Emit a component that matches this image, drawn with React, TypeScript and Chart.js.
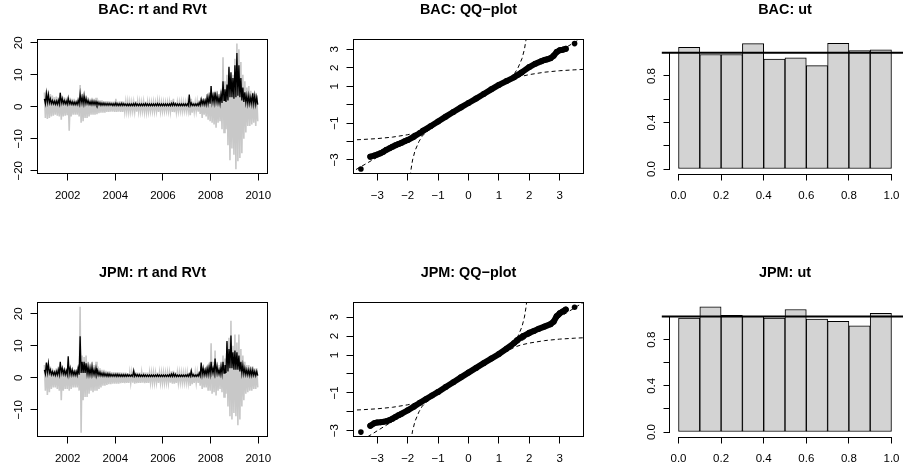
import React, { useEffect, useRef } from 'react';
import { Chart, registerables } from 'chart.js';

Chart.register(...registerables);

// ---------------- style constants ----------------
const FONT = '"Liberation Sans", Arial, Helvetica, sans-serif';
const TICK_SIZE = 11.5;
const TITLE_SIZE = 14.4;
const TICK_LEN = 6.5;
const Y_LABEL_GAP = 18;
const X_LABEL_GAP = 21.5;
const M_LEFT = 45;
const M_RIGHT = 20;
const GREY = '#C8C8C8';
const HIST_FILL = '#D3D3D3';

// ---------------- data ----------------
const START_YEAR = 2001; // monthly summaries, Jan 2001 .. Dec 2009

// BAC daily returns rt: monthly low / high
const BAC_RT_HI = [
  4.5, 5.2, 4.8, 4.0, 3.5, 3.0, 3.2, 3.0, 4.5, 3.5, 3.0, 2.8,
  3.0, 2.8, 2.5, 2.5, 2.2, 3.0, 6.8, 4.0, 3.5, 3.5, 3.0, 2.5,
  2.8, 2.5, 2.8, 2.2, 2.0, 2.0, 1.8, 1.8, 1.8, 1.7, 1.6, 1.6,
  2.5, 1.6, 1.7, 1.8, 1.6, 1.5, 1.5, 1.4, 1.3, 1.4, 1.8, 1.5,
  1.4, 1.3, 1.5, 1.6, 1.4, 1.3, 1.3, 1.4, 1.2, 1.6, 1.5, 1.3,
  1.3, 1.2, 1.3, 1.4, 2.0, 2.5, 1.5, 1.3, 1.3, 1.4, 1.3, 1.2,
  1.4, 1.3, 2.5, 1.6, 1.3, 1.5, 2.0, 2.8, 2.5, 2.5, 4.0, 4.5,
  6.5, 4.5, 5.0, 5.0, 4.0, 5.0, 15.5, 8.0, 10.0, 12.0, 9.0, 10.0,
  15.0, 19.8, 18.0, 14.0, 10.0, 8.0, 6.0, 6.5, 5.0, 4.5, 4.0, 3.5,
];
const BAC_RT_LO = [
  -3.5, -3.8, -3.5, -3.0, -2.8, -2.5, -2.8, -3.0, -4.0, -3.0, -2.8, -2.6,
  -7.5, -3.0, -2.5, -2.5, -2.5, -3.0, -5.0, -4.5, -3.5, -3.5, -3.0, -2.5,
  -2.5, -2.5, -2.3, -2.0, -1.8, -1.8, -1.8, -1.6, -1.6, -1.5, -1.5, -1.6,
  -1.6, -1.5, -1.6, -1.6, -1.5, -1.4, -1.5, -1.4, -1.3, -1.4, -1.5, -1.4,
  -1.4, -1.3, -1.5, -1.5, -1.4, -1.3, -1.3, -1.4, -1.3, -1.6, -1.4, -1.3,
  -1.3, -1.2, -1.3, -1.4, -1.6, -1.7, -1.5, -1.3, -1.2, -1.3, -1.2, -1.2,
  -1.3, -2.6, -1.8, -1.4, -1.3, -1.5, -2.2, -3.5, -2.5, -3.0, -4.0, -4.5,
  -5.0, -5.5, -6.5, -5.0, -4.5, -7.0, -8.0, -7.0, -12.0, -16.7, -13.0, -15.0,
  -19.5, -17.0, -16.0, -14.5, -10.0, -8.0, -6.0, -6.0, -5.5, -5.0, -6.0, -4.5,
];
// BAC realized volatility RVt: monthly low / high
const BAC_RV_HI = [
  2.5, 4.2, 3.8, 2.5, 2.0, 1.8, 1.8, 2.0, 4.4, 2.5, 2.0, 1.8,
  2.7, 1.8, 1.6, 1.5, 1.5, 2.0, 4.0, 3.0, 3.5, 2.5, 2.0, 1.6,
  1.8, 1.7, 1.6, 1.4, 1.3, 1.2, 1.2, 1.1, 1.1, 1.1, 1.0, 1.0,
  1.2, 1.0, 1.0, 1.1, 1.0, 0.9, 0.9, 0.9, 0.9, 1.0, 1.1, 0.9,
  0.9, 0.9, 0.9, 1.0, 0.9, 0.9, 0.9, 0.9, 0.9, 1.0, 0.9, 0.9,
  0.9, 0.9, 0.9, 0.9, 1.1, 1.2, 1.0, 0.9, 0.9, 0.9, 0.9, 0.9,
  0.9, 3.8, 1.2, 0.9, 0.9, 1.0, 1.3, 2.3, 2.0, 2.0, 3.0, 3.2,
  6.5, 3.5, 4.5, 3.5, 3.0, 4.0, 8.0, 5.5, 7.0, 12.5, 10.8, 9.0,
  13.0, 16.8, 13.0, 9.0, 6.0, 4.5, 3.5, 3.5, 3.0, 4.2, 3.5, 3.0,
];
const BAC_RV_LO = [
  1.0, 1.5, 1.3, 1.0, 0.9, 0.8, 0.8, 0.8, 1.2, 1.0, 0.9, 0.8,
  0.9, 0.8, 0.7, 0.7, 0.7, 0.8, 1.2, 1.0, 1.0, 1.0, 0.8, 0.7,
  0.7, 0.7, 0.6, 0.6, 0.5, 0.5, 0.5, 0.5, 0.5, 0.5, 0.4, 0.4,
  0.4, 0.4, 0.4, 0.4, 0.4, 0.35, 0.35, 0.35, 0.35, 0.35, 0.4, 0.35,
  0.35, 0.35, 0.35, 0.35, 0.35, 0.35, 0.35, 0.35, 0.35, 0.35, 0.35, 0.35,
  0.35, 0.35, 0.35, 0.35, 0.4, 0.4, 0.35, 0.35, 0.35, 0.35, 0.35, 0.35,
  0.35, 0.4, 0.4, 0.35, 0.35, 0.4, 0.5, 0.8, 0.7, 0.7, 1.0, 1.0,
  1.5, 1.3, 1.5, 1.2, 1.0, 1.2, 2.0, 1.5, 2.0, 3.0, 3.0, 2.5,
  3.0, 3.5, 3.0, 2.0, 1.5, 1.3, 1.0, 1.0, 0.9, 0.9, 0.8, 0.7,
];

// JPM daily returns rt: monthly low / high
const JPM_RT_HI = [
  4.0, 4.5, 4.5, 3.5, 3.0, 2.5, 3.0, 3.5, 4.5, 3.5, 3.0, 3.0,
  4.0, 3.5, 3.0, 2.5, 2.5, 3.5, 22.2, 7.0, 6.5, 7.0, 5.0, 4.5,
  5.0, 4.0, 5.0, 3.5, 3.0, 2.5, 2.5, 2.2, 2.0, 2.0, 1.8, 1.8,
  1.8, 1.8, 1.7, 1.6, 1.6, 1.6, 1.5, 1.5, 1.5, 2.2, 1.8, 1.6,
  1.6, 1.5, 1.7, 1.6, 1.6, 1.5, 1.5, 1.5, 1.4, 1.6, 1.5, 1.5,
  1.5, 1.4, 1.5, 1.5, 2.0, 2.2, 1.8, 1.5, 1.5, 1.5, 1.4, 1.4,
  1.5, 1.6, 2.5, 1.6, 1.5, 1.5, 2.0, 3.5, 3.0, 3.0, 3.5, 4.0,
  10.8, 5.0, 8.5, 5.0, 4.0, 5.0, 7.0, 6.0, 11.0, 12.5, 17.8, 10.0,
  13.5, 11.0, 13.5, 9.0, 7.0, 5.0, 4.0, 4.0, 3.5, 3.5, 3.0, 3.0,
];
const JPM_RT_LO = [
  -4.0, -5.4, -4.5, -3.5, -3.0, -3.0, -3.5, -4.0, -7.0, -4.0, -3.5, -3.5,
  -4.0, -3.5, -3.0, -3.0, -3.0, -4.0, -17.2, -7.0, -6.0, -6.0, -5.0, -4.0,
  -4.5, -4.0, -4.0, -3.5, -3.0, -2.5, -2.5, -2.2, -2.0, -2.0, -1.8, -1.8,
  -1.8, -1.8, -1.7, -1.6, -1.7, -1.6, -1.6, -1.5, -1.5, -1.8, -1.7, -1.6,
  -1.6, -1.5, -1.7, -1.6, -1.6, -1.5, -1.5, -1.5, -1.4, -1.6, -1.5, -1.5,
  -1.5, -1.4, -1.5, -1.5, -1.8, -1.8, -1.6, -1.5, -1.4, -1.4, -1.4, -1.4,
  -1.5, -2.5, -2.0, -1.6, -1.5, -1.6, -2.5, -3.5, -3.0, -3.0, -4.0, -4.0,
  -5.0, -4.5, -5.5, -4.0, -3.5, -4.5, -6.0, -5.0, -9.0, -12.0, -13.0, -11.0,
  -12.0, -14.8, -13.0, -9.0, -7.0, -5.0, -4.5, -4.0, -4.0, -3.5, -3.5, -3.0,
];
// JPM realized volatility RVt: monthly low / high
const JPM_RV_HI = [
  2.5, 4.8, 4.5, 2.5, 2.0, 1.8, 2.0, 2.5, 5.0, 3.0, 2.5, 2.2,
  6.7, 3.0, 2.5, 2.0, 2.0, 3.0, 13.0, 5.0, 5.0, 4.5, 3.5, 3.0,
  3.5, 2.5, 3.0, 2.0, 1.8, 1.5, 1.5, 1.3, 1.3, 1.2, 1.1, 1.1,
  1.1, 1.1, 1.0, 1.0, 1.0, 1.0, 1.0, 0.9, 0.9, 2.2, 1.1, 1.0,
  1.0, 0.9, 1.0, 0.9, 0.9, 0.9, 0.9, 0.9, 0.9, 1.0, 0.9, 0.9,
  0.9, 0.9, 0.9, 1.0, 1.2, 1.3, 1.1, 0.9, 0.9, 0.9, 0.9, 0.9,
  1.0, 1.2, 2.2, 1.0, 0.9, 1.0, 1.5, 4.8, 3.0, 2.5, 3.0, 3.5,
  5.0, 3.0, 6.0, 3.5, 2.5, 3.5, 5.0, 4.0, 11.5, 9.0, 13.2, 8.0,
  8.5, 8.0, 7.0, 5.0, 4.0, 3.0, 2.5, 2.5, 2.5, 2.5, 2.0, 2.0,
];
const JPM_RV_LO = [
  1.2, 1.8, 1.5, 1.0, 0.9, 0.8, 0.9, 1.0, 1.5, 1.2, 1.0, 1.0,
  1.2, 1.0, 0.9, 0.8, 0.8, 1.0, 1.5, 1.5, 1.5, 1.3, 1.0, 1.0,
  1.0, 0.9, 0.9, 0.8, 0.7, 0.6, 0.6, 0.5, 0.5, 0.5, 0.5, 0.5,
  0.45, 0.45, 0.45, 0.45, 0.45, 0.45, 0.45, 0.45, 0.45, 0.5, 0.45, 0.45,
  0.4, 0.4, 0.4, 0.4, 0.4, 0.4, 0.4, 0.4, 0.4, 0.4, 0.4, 0.4,
  0.4, 0.4, 0.4, 0.4, 0.45, 0.45, 0.4, 0.4, 0.4, 0.4, 0.4, 0.4,
  0.4, 0.5, 0.5, 0.4, 0.4, 0.5, 0.6, 1.0, 0.9, 0.9, 1.0, 1.2,
  1.5, 1.3, 1.5, 1.2, 1.0, 1.2, 1.5, 1.5, 2.0, 3.0, 3.0, 2.5,
  2.5, 2.5, 2.0, 1.5, 1.2, 1.0, 0.9, 0.8, 0.8, 0.8, 0.7, 0.7,
];

// QQ-plots: theoretical quantiles (x) vs sample quantiles (y)
const BAC_QQ_X = [-3.23, -3.1, -3.0, -2.9, -2.8, -2.7, -2.6, -2.5, -2.4, -2.3, -2.2, -2.1, -2.0, -1.8, -1.6, -1.5, -1.25, -1.0, -0.75, -0.5, -0.25, 0, 0.25, 0.5, 0.75, 1.0, 1.25, 1.5, 1.75, 2.0, 2.2, 2.4, 2.5, 2.6, 2.7, 2.8, 2.9, 3.0, 3.1, 3.2];
const BAC_QQ_Y = [-2.82, -2.76, -2.7, -2.64, -2.56, -2.45, -2.37, -2.28, -2.2, -2.13, -2.06, -1.99, -1.92, -1.74, -1.54, -1.42, -1.17, -0.91, -0.65, -0.4, -0.15, 0.09, 0.33, 0.58, 0.83, 1.07, 1.28, 1.48, 1.75, 2.04, 2.22, 2.36, 2.42, 2.46, 2.52, 2.65, 2.85, 2.95, 2.98, 3.03];
const BAC_QQ_TAIL_X = [-3.54, 3.49];
const BAC_QQ_TAIL_Y = [-3.49, 3.31];
const BAC_DIAG_X = [-3.9, 3.9];
const BAC_DIAG_Y = [-3.71, 3.77];

const JPM_QQ_X = [-3.23, -3.1, -3.0, -2.9, -2.8, -2.7, -2.6, -2.5, -2.4, -2.3, -2.2, -2.0, -1.8, -1.6, -1.4, -1.2, -1.0, -0.75, -0.5, -0.25, 0, 0.25, 0.5, 0.75, 1.0, 1.25, 1.5, 1.6, 1.8, 2.0, 2.15, 2.3, 2.5, 2.7, 2.8, 2.9, 3.0, 3.1, 3.2];
const JPM_QQ_Y = [-2.74, -2.6, -2.56, -2.55, -2.53, -2.5, -2.44, -2.36, -2.27, -2.18, -2.1, -1.92, -1.73, -1.52, -1.33, -1.14, -0.95, -0.69, -0.44, -0.18, 0.07, 0.32, 0.57, 0.81, 1.05, 1.33, 1.63, 1.78, 2.0, 2.17, 2.27, 2.38, 2.5, 2.63, 2.76, 3.05, 3.2, 3.3, 3.4];
const JPM_QQ_TAIL_X = [-3.54, 3.49];
const JPM_QQ_TAIL_Y = [-3.07, 3.52];
const JPM_DIAG_X = [-3.9, 3.9];
const JPM_DIAG_Y = [-3.9, 3.9];

// dashed envelope curves (t, h(t)); the steep branch is (h(t), t)
const ENV_T = [-3.9, -3.5, -3.0, -2.5, -2.0, -1.7, -1.5, -1.0, -0.5, 0, 0.5, 1.0, 1.5, 1.7, 2.0, 2.5, 3.0, 3.5, 3.9];
const ENV_H = [-1.92, -1.89, -1.84, -1.76, -1.63, -1.52, -1.4, -0.97, -0.5, 0, 0.5, 0.97, 1.4, 1.52, 1.63, 1.76, 1.84, 1.89, 1.92];

// histograms of ut (density), bins of width 0.1
const HIST_MIDS = [0.05, 0.15, 0.25, 0.35, 0.45, 0.55, 0.65, 0.75, 0.85, 0.95];
const BAC_HIST = [1.047, 0.985, 0.985, 1.078, 0.946, 0.957, 0.889, 1.081, 1.018, 1.024];
const JPM_HIST = [0.987, 1.084, 1.01, 1.001, 0.987, 1.061, 0.978, 0.958, 0.92, 1.027];
const UNIFORM_DENSITY = 1;
const REF_LINE_X = [-0.0785, 1.2];

// ticks
const TS_X_TICKS = [2002, 2004, 2006, 2008, 2010];
const TS_X_LABELS = ['2002', '2004', '2006', '2008', '2010'];
const BAC_TS_Y_TICKS = [-20, -10, 0, 10, 20];
const BAC_TS_Y_LABELS = ['\u221220', '\u221210', '0', '10', '20'];
const JPM_TS_Y_TICKS = [-10, 0, 10, 20];
const JPM_TS_Y_LABELS = ['\u221210', '0', '10', '20'];
const QQ_X_TICKS = [-3, -2, -1, 0, 1, 2, 3];
const QQ_X_LABELS = ['\u22123', '\u22122', '\u22121', '0', '1', '2', '3'];
const QQ_Y_TICKS = [-3, -2, -1, 0, 1, 2, 3];
const QQ_Y_LABELS = ['\u22123', '', '\u22121', '', '1', '2', '3'];
const HIST_X_TICKS = [0, 0.2, 0.4, 0.6, 0.8, 1];
const HIST_X_LABELS = ['0.0', '0.2', '0.4', '0.6', '0.8', '1.0'];
const HIST_Y_TICKS = [0, 0.2, 0.4, 0.6, 0.8, 1];
const HIST_Y_LABELS = ['0.0', '', '0.4', '', '0.8', ''];

// each month contributes its high and its low, placed in the first and second half of that month
const monthStart = (i: number) => START_YEAR + i / 12;
function zigzag(hi: number[], lo: number[]) {
  const out: { x: number; y: number }[] = [];
  hi.forEach((h, i) => {
    out.push({ x: monthStart(i) + 0.25 / 12, y: h });
    out.push({ x: monthStart(i) + 0.75 / 12, y: lo[i] });
  });
  return out;
}

// ---------------- layout ----------------
type Geom = { plotL: number; plotR: number; plotT: number; plotB: number; canvasT: number; canvasB: number; titleY: number };
const ROW1 = { plotT: 39, plotB: 174, canvasT: 0, canvasB: 234, titleY: 10.5 };
const ROW2 = { plotT: 302, plotB: 437, canvasT: 234, canvasB: 469, titleY: 273.5 };
const COL1 = { plotL: 37, plotR: 268 };
const COL2 = { plotL: 353, plotR: 584 };
const COL3 = { plotL: 670, plotR: 900 };

const tickFont = { family: FONT, size: TICK_SIZE };

function yLabelPad(labels: string[]) {
  const c = document.createElement('canvas').getContext('2d') as CanvasRenderingContext2D;
  c.font = `normal ${TICK_SIZE}px ${FONT}`;
  const w = Math.max(...labels.map((l) => c.measureText(l).width));
  return Y_LABEL_GAP - TICK_LEN - w / 2;
}

function xAxis(g: Geom, min: number, max: number, ticks: number[], labels: string[]) {
  const lh = TICK_SIZE * 1.2;
  return {
    type: 'linear',
    position: 'bottom',
    offset: false,
    min,
    max,
    afterFit: (s: any) => { s.height = g.canvasB - g.plotB; },
    afterBuildTicks: (s: any) => { s.ticks = ticks.map((v) => ({ value: v })); },
    ticks: {
      autoSkip: false,
      minRotation: 0,
      maxRotation: 0,
      padding: X_LABEL_GAP - TICK_LEN - lh / 2,
      color: '#000',
      font: tickFont,
      callback: (_v: any, i: number) => labels[i],
    },
    grid: { drawOnChartArea: false, drawTicks: true, tickLength: TICK_LEN, color: '#000', lineWidth: 1, offset: false },
    border: { display: false },
  };
}

function yAxis(min: number, max: number, ticks: number[], labels: string[]) {
  return {
    type: 'linear',
    position: 'left',
    offset: false,
    min,
    max,
    afterFit: (s: any) => { s.width = M_LEFT; },
    afterBuildTicks: (s: any) => { s.ticks = ticks.map((v) => ({ value: v })); },
    ticks: {
      autoSkip: false,
      minRotation: 90,
      maxRotation: 90,
      crossAlign: 'center',
      padding: yLabelPad(labels),
      color: '#000',
      font: tickFont,
      callback: (_v: any, i: number) => labels[i],
    },
    grid: { drawOnChartArea: false, drawTicks: true, tickLength: TICK_LEN, color: '#000', lineWidth: 1, offset: false },
    border: { display: false },
  };
}

function baseOptions(g: Geom, title: string, x: any, y: any) {
  const lh = TITLE_SIZE * 1.2;
  const padTop = g.titleY - g.canvasT - lh / 2;
  const padBottom = g.plotT - g.canvasT - lh - padTop;
  return {
    responsive: false,
    maintainAspectRatio: false,
    animation: false,
    devicePixelRatio: 1,
    events: [],
    layout: { padding: { left: 0, right: M_RIGHT, top: 0, bottom: 0 } },
    plugins: {
      legend: { display: false },
      tooltip: { enabled: false },
      title: {
        display: true,
        fullSize: false,
        text: title,
        color: '#000',
        font: { family: FONT, size: TITLE_SIZE, weight: 'bold', lineHeight: 1.2 },
        padding: { top: padTop, bottom: padBottom },
      },
    },
    scales: { x, y },
  };
}

const boxPlugin = {
  id: 'rBox',
  afterDraw(chart: any) {
    const { ctx, chartArea: a } = chart;
    ctx.save();
    ctx.strokeStyle = '#000';
    ctx.lineWidth = 1;
    ctx.strokeRect(Math.round(a.left) + 0.5, Math.round(a.top) + 0.5, Math.round(a.right - a.left) - 1, Math.round(a.bottom - a.top) - 1);
    ctx.restore();
  },
};

function rAxesPlugin(xFrom: number, xTo: number, yFrom: number, yTo: number) {
  return {
    id: 'rAxes',
    afterDraw(chart: any) {
      const { ctx, chartArea: a, scales } = chart;
      ctx.save();
      ctx.strokeStyle = '#000';
      ctx.lineWidth = 1;
      ctx.beginPath();
      const yb = Math.round(a.bottom) + 0.5;
      ctx.moveTo(scales.x.getPixelForValue(xFrom), yb);
      ctx.lineTo(scales.x.getPixelForValue(xTo), yb);
      const xl = Math.round(a.left) - 0.5;
      ctx.moveTo(xl, scales.y.getPixelForValue(yFrom));
      ctx.lineTo(xl, scales.y.getPixelForValue(yTo));
      ctx.stroke();
      ctx.restore();
    },
  };
}

const pts = (xs: number[], ys: number[]) => xs.map((x, i) => ({ x, y: ys[i] }));

function tsConfig(g: Geom, name: string, rtLo: number[], rtHi: number[], rvLo: number[], rvHi: number[], yMin: number, yMax: number, yTicks: number[], yLabels: string[]) {
  const lineCommon = { type: 'line', pointRadius: 0, tension: 0, fill: false, borderJoinStyle: 'miter' };
  return {
    type: 'line',
    data: {
      datasets: [
        { ...lineCommon, label: 'RVt', data: zigzag(rvHi, rvLo), borderColor: '#000', borderWidth: 1.3, order: 0 },
        { ...lineCommon, label: 'rt', data: zigzag(rtHi, rtLo), borderColor: GREY, borderWidth: 1.6, order: 1 },
      ],
    },
    options: baseOptions(g, `${name}: rt and RVt`, xAxis(g, 2000.71, 2010.41, TS_X_TICKS, TS_X_LABELS), yAxis(yMin, yMax, yTicks, yLabels)),
    plugins: [boxPlugin],
  };
}

function qqConfig(g: Geom, name: string, qx: number[], qy: number[], tx: number[], ty: number[], dx: number[], dy: number[], yMin: number, yMax: number) {
  const dashed = { type: 'line', borderColor: '#000', borderWidth: 1, borderDash: [4, 3], pointRadius: 0, tension: 0, fill: false, order: 2 };
  return {
    type: 'line',
    data: {
      datasets: [
        { type: 'line', label: 'sample', data: pts(qx, qy), borderColor: '#000', borderWidth: 6, borderJoinStyle: 'round', borderCapStyle: 'round', pointRadius: 3, pointBorderWidth: 0, pointBackgroundColor: '#000', tension: 0, fill: false, order: 0 },
        { type: 'line', label: 'tails', data: pts(tx, ty), showLine: false, pointRadius: 2.8, pointBorderWidth: 0, pointBackgroundColor: '#000', order: 0 },
        { ...dashed, label: 'line', data: pts(dx, dy) },
        { ...dashed, label: 'band1', data: pts(ENV_T, ENV_H) },
        { ...dashed, label: 'band2', data: pts(ENV_H, ENV_T) },
      ],
    },
    options: baseOptions(g, `${name}: QQ\u2212plot`, xAxis(g, -3.8, 3.8, QQ_X_TICKS, QQ_X_LABELS), yAxis(yMin, yMax, QQ_Y_TICKS, QQ_Y_LABELS)),
    plugins: [boxPlugin],
  };
}

function histConfig(g: Geom, name: string, heights: number[], yMax: number) {
  return {
    type: 'line',
    data: {
      datasets: [
        { type: 'line', label: 'uniform', data: REF_LINE_X.map((x) => ({ x, y: UNIFORM_DENSITY })), borderColor: '#000', borderWidth: 2, pointRadius: 0, clip: false, order: 0 },
        { type: 'bar', label: 'ut', data: pts(HIST_MIDS, heights), backgroundColor: HIST_FILL, borderColor: '#000', borderWidth: 1, borderSkipped: false, grouped: false, barPercentage: 1, categoryPercentage: 1, order: 1 },
      ],
    },
    options: baseOptions(g, `${name}: ut`, xAxis(g, -0.04, 1.04, HIST_X_TICKS, HIST_X_LABELS), yAxis(-0.043, yMax, HIST_Y_TICKS, HIST_Y_LABELS)),
    plugins: [rAxesPlugin(0, 1, 0, 1)],
  };
}

function Panel({ g, build }: { g: Geom; build: (g: Geom) => any }) {
  const ref = useRef<HTMLCanvasElement>(null);
  useEffect(() => {
    const chart = new Chart(ref.current as HTMLCanvasElement, build(g) as any);
    return () => chart.destroy();
  }, []);
  const left = g.plotL - M_LEFT;
  const width = g.plotR - g.plotL + M_LEFT + M_RIGHT;
  const height = g.canvasB - g.canvasT;
  return (
    <div style={{ position: 'absolute', left, top: g.canvasT, width, height }}>
      <canvas ref={ref} width={width} height={height} style={{ width, height, display: 'block' }} />
    </div>
  );
}

export default function App() {
  return (
    <div style={{ position: 'fixed', left: 0, top: 0, width: 903, height: 469, overflow: 'hidden', background: '#fff' }}>
      <Panel g={{ ...ROW1, ...COL1 }} build={(g) => tsConfig(g, 'BAC', BAC_RT_LO, BAC_RT_HI, BAC_RV_LO, BAC_RV_HI, -21.0, 21.2, BAC_TS_Y_TICKS, BAC_TS_Y_LABELS)} />
      <Panel g={{ ...ROW1, ...COL2 }} build={(g) => qqConfig(g, 'BAC', BAC_QQ_X, BAC_QQ_Y, BAC_QQ_TAIL_X, BAC_QQ_TAIL_Y, BAC_DIAG_X, BAC_DIAG_Y, -3.76, 3.56)} />
      <Panel g={{ ...ROW1, ...COL3 }} build={(g) => histConfig(g, 'BAC', BAC_HIST, 1.118)} />
      <Panel g={{ ...ROW2, ...COL1 }} build={(g) => tsConfig(g, 'JPM', JPM_RT_LO, JPM_RT_HI, JPM_RV_LO, JPM_RV_HI, -18.5, 23.7, JPM_TS_Y_TICKS, JPM_TS_Y_LABELS)} />
      <Panel g={{ ...ROW2, ...COL2 }} build={(g) => qqConfig(g, 'JPM', JPM_QQ_X, JPM_QQ_Y, JPM_QQ_TAIL_X, JPM_QQ_TAIL_Y, JPM_DIAG_X, JPM_DIAG_Y, -3.33, 3.8)} />
      <Panel g={{ ...ROW2, ...COL3 }} build={(g) => histConfig(g, 'JPM', JPM_HIST, 1.126)} />
    </div>
  );
}
